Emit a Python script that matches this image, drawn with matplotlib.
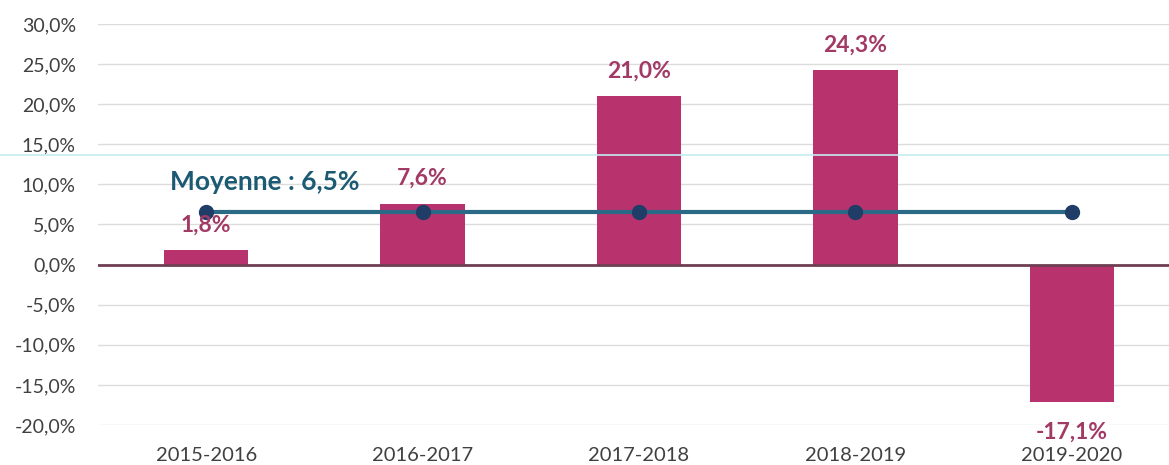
import matplotlib
matplotlib.use("Agg")
import matplotlib.pyplot as plt
from matplotlib.lines import Line2D

plt.rcParams['font.family'] = ['Lato', 'DejaVu Sans']

categories = ["2015-2016", "2016-2017", "2017-2018", "2018-2019", "2019-2020"]
values = [1.8, 7.6, 21.0, 24.3, -17.1]
mean_values = [6.5, 6.5, 6.5, 6.5, 6.5]
mean_label = "Moyenne : 6,5%"
yticks = [-20, -15, -10, -5, 0, 5, 10, 15, 20, 25, 30]

W, H = 1169, 465
fig = plt.figure(figsize=(W / 100, H / 100), dpi=100)
left_px, right_px, top_px, bot_px = 98, 1180, 24, 425
ax = fig.add_axes([left_px / W, (H - bot_px) / H, (right_px - left_px) / W, (bot_px - top_px) / H])

x = list(range(len(categories)))
bar_color = "#b8336e"
label_color = "#a23a66"

ax.set_xlim(-0.5, len(categories) - 0.5)
ax.set_ylim(-20, 30)
ax.set_yticks(yticks)
ax.set_yticklabels([f"{v:.1f}".replace(".", ",") + "%" for v in yticks])
ax.grid(axis="y", color="#dcdcdc", linewidth=1)
ax.set_axisbelow(True)
for s in ax.spines.values():
    s.set_visible(False)
ax.tick_params(axis="y", length=0, labelsize=14, colors="#404040", pad=16)
ax.tick_params(axis="x", length=0, labelsize=14.5, colors="#404040", pad=16)
ax.set_xticks(x)
ax.set_xticklabels(categories)

ax.bar(x, values, width=0.39, color=bar_color, zorder=2)
ax.axhline(0, color="#6e3f52", linewidth=2, zorder=3)

ax.plot(x, mean_values, color="#2b6a86", linewidth=3, zorder=4,
        marker="o", markersize=10, markerfacecolor="#1f3d66", markeredgecolor="#1f3d66")

for xi, v in zip(x, values):
    lab = f"{v:.1f}".replace(".", ",") + "%"
    if v >= 0:
        ax.annotate(lab, (xi, v), xytext=(0, 18), textcoords="offset points",
                    ha="center", va="center", color=label_color, fontsize=16.5, fontweight="bold", zorder=5)
    else:
        ax.annotate(lab, (xi, v), xytext=(0, -22), textcoords="offset points",
                    ha="center", va="center", color=label_color, fontsize=16.5, fontweight="bold", zorder=5)

ax.annotate(mean_label, (x[0], mean_values[0]), xytext=(42, 22), textcoords="offset points",
            ha="center", va="center", color="#1b5a72", fontsize=19, fontweight="bold", zorder=5)

# faint cyan scan line
fig.add_artist(Line2D([0, 1], [(H - 155) / H, (H - 155) / H], transform=fig.transFigure,
                      color="#c4ecf0", linewidth=1.2))

fig.savefig("out.png", dpi=100)
